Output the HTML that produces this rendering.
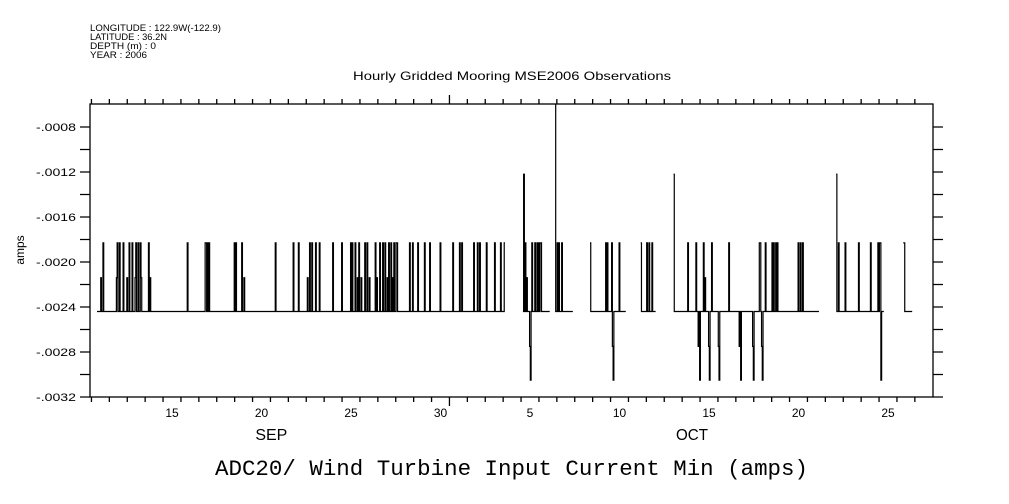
<!DOCTYPE html>
<html><head><meta charset="utf-8"><style>
html,body{margin:0;padding:0;background:#fff;}
svg{display:block;font-family:"Liberation Sans",sans-serif;}
</style></head><body>
<svg id="chart" width="1009" height="504" viewBox="0 0 1009 504" xmlns="http://www.w3.org/2000/svg">
<g font-size="9" fill="#000">
<text x="90" y="31" textLength="131" lengthAdjust="spacingAndGlyphs">LONGITUDE : 122.9W(-122.9)</text>
<text x="90" y="40" textLength="77" lengthAdjust="spacingAndGlyphs">LATITUDE : 36.2N</text>
<text x="90" y="49" textLength="66" lengthAdjust="spacingAndGlyphs">DEPTH (m) : 0</text>
<text x="90" y="58" textLength="57" lengthAdjust="spacingAndGlyphs">YEAR : 2006</text>
</g>
<text x="353" y="80" font-size="12" textLength="318" lengthAdjust="spacingAndGlyphs">Hourly Gridded Mooring MSE2006 Observations</text>
<text x="0" y="0" font-size="12" text-anchor="middle" transform="translate(24,250) rotate(-90)">amps</text>
<text x="215" y="475" font-size="22" textLength="593" lengthAdjust="spacingAndGlyphs" font-family="'Liberation Mono',monospace">ADC20/ Wind Turbine Input Current Min (amps)</text>
<g id="axes"></g>
<g id="series"></g>
</svg>
<script>
// days: integer = noon of that day (Sep 1 = 1, Oct 1 = 31)
const yTicks = [-0.0008,-0.0012,-0.0016,-0.0020,-0.0024,-0.0028,-0.0032];
const yTickLabels = ["-.0008","-.0012","-.0016","-.0020","-.0024","-.0028","-.0032"];
const xLabelDays = [15,20,25,30,35,40,45,50,55];
const xLabels = ["15","20","25","30","5","10","15","20","25"];
const monthDays = [20.55,44.05];
const monthLabels = ["SEP","OCT"];
const baseline = -0.00244;
const dataStart = 10.81, dataEnd = 56.32;
const gapStart = [33.60,36.08,37.39,40.32,42.00,51.11,54.74];
const gapEnd   = [34.60,36.40,38.35,41.18,43.00,52.11,55.84];
const eventDay = [11.03,11.13,11.91,11.93,12.04,12.26,12.47,12.60,12.77,12.92,12.99,13.10,13.21,13.27,13.70,13.77,15.84,16.84,16.90,16.96,17.05,18.46,18.58,18.91,19.02,20.75,21.76,
22.06,22.58,22.69,22.80,23.03,23.21,23.96,24.48,24.96,25.07,25.22,25.34,25.45,25.56,25.78,25.89,26.01,26.34,26.45,26.60,26.75,26.90,27.01,27.12,27.23,27.29,27.39,27.50,27.57,28.28,28.43,28.73,29.10,29.40,29.99,30.70,31.07,31.18,31.85,32.04,32.19,32.56,33.01,33.34,33.55,
34.63,34.72,34.83,34.96,35.02,35.11,35.26,35.39,35.47,35.56,35.61,36.41,36.51,36.60,36.75,38.36,39.21,39.32,39.55,39.60,39.66,39.96,41.18,41.52,41.63,41.82,
43.01,43.79,44.28,44.39,44.41,44.46,44.68,44.78,44.97,45.02,45.15,45.52,45.56,46.12,46.70,46.75,47.42,47.46,47.80,47.87,47.95,47.99,48.13,48.50,48.61,48.72,48.83,49.99,50.10,50.21,
52.11,52.21,52.60,53.34,54.01,54.42,54.50,54.57,54.61,55.84,55.89];
const eventVal = [-0.00214,-0.00183,-0.00214,-0.00183,-0.00183,-0.00183,-0.00214,-0.00183,-0.00183,-0.00214,-0.00183,-0.00183,-0.00183,-0.00214,-0.00183,-0.00214,-0.00183,-0.00183,-0.00183,-0.00183,-0.00183,-0.00183,-0.00183,-0.00183,-0.00214,-0.00183,-0.00183,
-0.00183,-0.00214,-0.00183,-0.00183,-0.00183,-0.00183,-0.00183,-0.00183,-0.00183,-0.00183,-0.00183,-0.00214,-0.00183,-0.00214,-0.00183,-0.00183,-0.00214,-0.00183,-0.00214,-0.00183,-0.00183,-0.00183,-0.00214,-0.00183,-0.00183,-0.00214,-0.00183,-0.00183,-0.00183,-0.00183,-0.00183,-0.00183,-0.00183,-0.00183,-0.00183,-0.00183,-0.00183,-0.00183,-0.00183,-0.00183,-0.00183,-0.00183,-0.00183,-0.00183,-0.00183,
-0.00122,-0.00183,-0.00214,-0.00275,-0.00305,-0.00183,-0.00183,-0.00183,-0.00183,-0.00183,-0.00183,-0.00060,-0.00183,-0.00183,-0.00183,-0.00183,-0.00183,-0.00183,-0.00183,-0.00275,-0.00305,-0.00183,-0.00183,-0.00183,-0.00183,-0.00183,
-0.00122,-0.00183,-0.00183,-0.00183,-0.00275,-0.00305,-0.00183,-0.00214,-0.00275,-0.00305,-0.00183,-0.00275,-0.00305,-0.00183,-0.00275,-0.00305,-0.00275,-0.00305,-0.00183,-0.00183,-0.00275,-0.00305,-0.00183,-0.00183,-0.00183,-0.00183,-0.00183,-0.00183,-0.00183,-0.00183,
-0.00122,-0.00183,-0.00183,-0.00183,-0.00183,-0.00183,-0.00183,-0.00183,-0.00305,-0.00183,-0.00183];

const L=90,R=933,T=104,B=397;
const xS = d => 172 + (d-15)*17.9;
const yS = v => 127 + (-0.0008 - v)/0.0004*45;
const NS="http://www.w3.org/2000/svg";
function mk(tag, parent){const e=document.createElementNS(NS,tag);parent.appendChild(e);return e;}
const axes=document.getElementById('axes'), series=document.getElementById('series');

const frame=mk('rect',axes);


frame.setAttribute('x',L);frame.setAttribute('y',T);frame.setAttribute('width',R-L);frame.setAttribute('height',B-T);
frame.setAttribute('fill','none');frame.setAttribute('stroke','#000');frame.setAttribute('stroke-width','1.3');

let tp='';
for(let d=11;d<=57;d++){
  const x=xS(d-0.5); if(x<L+1||x>R-1) continue;
  const long = (d===31);
  tp+=`M${x} ${T}V${T-(long?9:5)}M${x} ${B}V${B+(long?9:5)}`;
}
for(let v=-0.0006;v>=-0.00321;v-=0.0002){
  const y=yS(v); if(y<T+1||y>B+1) continue;
  tp+=`M${L} ${y}H${L-10}M${R} ${y}H${R+10}`;
}
tp+=`M${L} ${B}H${L-10}M${R} ${B}H${R+10}`;
const ticks=mk('path',axes);


ticks.setAttribute('d',tp);ticks.setAttribute('stroke','#000');ticks.setAttribute('stroke-width','1.3');ticks.setAttribute('fill','none');

yTicks.forEach((v,i)=>{
  const t=mk('text',axes);
  
  
  t.setAttribute('x',36);t.setAttribute('y',yS(v)+4);t.setAttribute('font-size','11');
  t.setAttribute('textLength','40');t.setAttribute('lengthAdjust','spacingAndGlyphs');
  t.textContent=yTickLabels[i];
});
xLabelDays.forEach((d,i)=>{
  const t=mk('text',axes);
  
  
  t.setAttribute('x',xS(d));t.setAttribute('y',417);t.setAttribute('font-size','12');t.setAttribute('text-anchor','middle');
  t.textContent=xLabels[i];
});
monthDays.forEach((d,i)=>{
  const t=mk('text',axes);
  
  
  t.setAttribute('x',xS(d)-16);t.setAttribute('y',440);t.setAttribute('font-size','16');
  t.setAttribute('textLength','32');t.setAttribute('lengthAdjust','spacingAndGlyphs');
  t.textContent=monthLabels[i];
});

// build hourly series
const H=1/24;
const n=Math.round((dataEnd-dataStart)/H);
const vals=[];
for(let i=0;i<=n;i++){
  const t=dataStart+i*H;
  let v=baseline;
  for(let g=0;g<gapStart.length;g++){ if(t>gapStart[g]&&t<gapEnd[g]) v=null; }
  vals.push(v);
}
eventDay.forEach((d,k)=>{
  const i=Math.round((d-dataStart)/H);
  if(i>=0&&i<vals.length) vals[i]=eventVal[k];
});
let p='',pen=false;
for(let i=0;i<vals.length;i++){
  const v=vals[i];
  if(v===null){pen=false;continue;}
  const x0=xS(dataStart+i*H), x1=xS(dataStart+(i+1)*H), y=yS(v);
  p+= pen?`L${x0.toFixed(2)} ${y.toFixed(2)}`:`M${x0.toFixed(2)} ${y.toFixed(2)}`;
  p+=`L${x1.toFixed(2)} ${y.toFixed(2)}`;
  pen=true;
}
const line=mk('path',series);


line.setAttribute('d',p);line.setAttribute('fill','none');line.setAttribute('stroke','#000');line.setAttribute('stroke-width','1.2');
</script>
</body></html>
